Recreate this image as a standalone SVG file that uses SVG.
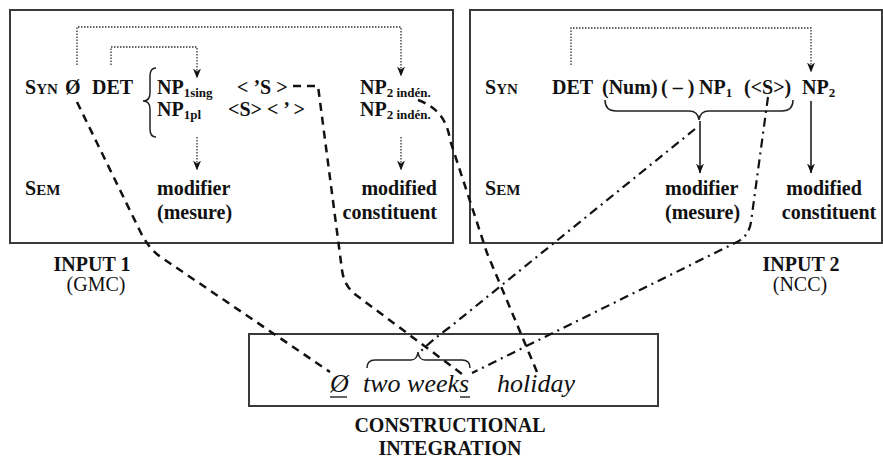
<svg xmlns="http://www.w3.org/2000/svg" width="883" height="460" viewBox="0 0 883 460">
<style>
.box{fill:#fff;stroke:#3a3a3a;stroke-width:2}
text{font-family:"Liberation Serif","Times New Roman",serif;fill:#111}
.b{font-weight:bold;font-size:20px}
.r{font-size:20px}
.sub{font-size:13px}
.sc{font-size:15px}
.it{font-style:italic;font-size:26px}
.dot{fill:none;stroke:#333;stroke-width:1.3;stroke-dasharray:1.5 1.5}
.dash{fill:none;stroke:#111;stroke-width:2.5;stroke-dasharray:8 6}
.dd{fill:none;stroke:#111;stroke-width:2.2;stroke-dasharray:9 5 2 5}
.solid{fill:none;stroke:#111;stroke-width:1.5}
.brace{fill:none;stroke:#222;stroke-width:1.5}
.ul{stroke:#111;stroke-width:1.3}
</style>
<defs>
<marker id="ah" viewBox="0 0 10 8" markerWidth="10" markerHeight="8" refX="9.5" refY="4" orient="auto" markerUnits="userSpaceOnUse">
<path d="M0,0 L10,4 L0,8 L3,4 z" fill="#111"/>
</marker>
</defs>
<rect width="883" height="460" fill="#fff"/>

<g id="input1">
<rect class="box" x="10" y="10" width="443" height="233"/>
<text class="b" x="25" y="94">S<tspan class="sc">YN</tspan></text>
<text class="b" x="65" y="94">Ø</text>
<text class="b" x="92" y="94">DET</text>
<text class="b" x="157" y="94">NP<tspan class="sub" dy="3">1sing</tspan></text>
<text class="b" x="157" y="116">NP<tspan class="sub" dy="3">1pl</tspan></text>
<text class="b" x="237" y="94">&lt; ’S &gt;</text>
<text class="b" x="228" y="116">&lt;S&gt; &lt; ’ &gt;</text>
<text class="b" x="360" y="94">NP<tspan class="sub" dy="3">2 indén.</tspan></text>
<text class="b" x="360" y="116">NP<tspan class="sub" dy="3">2 indén.</tspan></text>
<text class="b" x="25" y="195">S<tspan class="sc">EM</tspan></text>
<text class="b" x="157" y="195">modifier</text>
<text class="b" x="157" y="219">(mesure)</text>
<text class="b" x="437" y="195" text-anchor="end">modified</text>
<text class="b" x="437" y="219" text-anchor="end">constituent</text>
<path class="brace" d="M156,68 Q150,68 150,76 L150,93 Q150,101 143,101 Q150,101 150,109 L150,129 Q150,137 156,137"/>
</g>

<g id="input2">
<rect class="box" x="470" y="10" width="412" height="233"/>
<text class="b" x="485" y="94">S<tspan class="sc">YN</tspan></text>
<text class="b" x="552" y="94">DET</text>
<text class="b" x="602" y="94">(Num)</text>
<text class="b" x="661" y="94">( – )</text>
<text class="b" x="699" y="94">NP<tspan class="sub" dy="3">1</tspan></text>
<text class="b" x="744" y="94">(&lt;S&gt;)</text>
<text class="b" x="802" y="94">NP<tspan class="sub" dy="3">2</tspan></text>
<text class="b" x="485" y="195">S<tspan class="sc">EM</tspan></text>
<text class="b" x="665" y="195">modifier</text>
<text class="b" x="665" y="219">(mesure)</text>
<text class="b" x="824" y="195" text-anchor="middle">modified</text>
<text class="b" x="829" y="219" text-anchor="middle">constituent</text>
<path class="brace" d="M605,100 Q605,111 616,111 L689,111 Q698,111 699,120 Q700,111 709,111 L782,111 Q793,111 793,100"/>
</g>

<g id="label1">
<text class="b" x="92" y="271" text-anchor="middle">INPUT 1</text>
<text class="r" x="96" y="291" text-anchor="middle">(GMC)</text>
</g>
<g id="label2">
<text class="b" x="801" y="271" text-anchor="middle">INPUT 2</text>
<text class="r" x="800" y="291" text-anchor="middle">(NCC)</text>
</g>

<g id="integration">
<rect class="box" x="249" y="334" width="409" height="72"/>
<text class="it" x="330" y="392">Ø</text>
<text class="it" x="363" y="392">two weeks</text>
<text class="it" x="497" y="392">holiday</text>
<line class="ul" x1="330" y1="397" x2="347" y2="397"/>
<line class="ul" x1="460" y1="397" x2="470" y2="397"/>
<path class="brace" d="M367,368 Q367,360 375,360 L411,360 Q417,360 418,352 Q419,360 425,360 L462,360 Q470,360 470,368"/>
<text class="b" x="450" y="432" text-anchor="middle">CONSTRUCTIONAL</text>
<text class="b" x="450" y="455" text-anchor="middle">INTEGRATION</text>
</g>

<g id="connectors">
<path class="dot" d="M77,65 V27 H401 V76" marker-end="url(#ah)"/>
<path class="dot" d="M111,65 V47 H197 V78" marker-end="url(#ah)"/>
<path class="dot" d="M197,137 V170" marker-end="url(#ah)"/>
<path class="dot" d="M401,137 V170" marker-end="url(#ah)"/>
<path class="dot" d="M571,65 V28 H811 V72" marker-end="url(#ah)"/>
<path class="solid" d="M700,121 V173" marker-end="url(#ah)"/>
<path class="solid" d="M811,101 V173" marker-end="url(#ah)"/>
<path class="dash" d="M77,102 L140,231 Q148.5,248.5 160,256.5 L330,372"/>
<path class="dash" d="M293,86 L318,86 L342,270 Q344,286 356,295 L462,374"/>
<path class="dash" d="M418,100 Q446,110 450,140 L487,253 L537,372"/>
<path class="dd" d="M695,129 L450,327 Q432,340 420,352"/>
<path class="dd" d="M768,97 L751,222 Q749,236 737,242 L472,373"/>
</g>
</svg>
